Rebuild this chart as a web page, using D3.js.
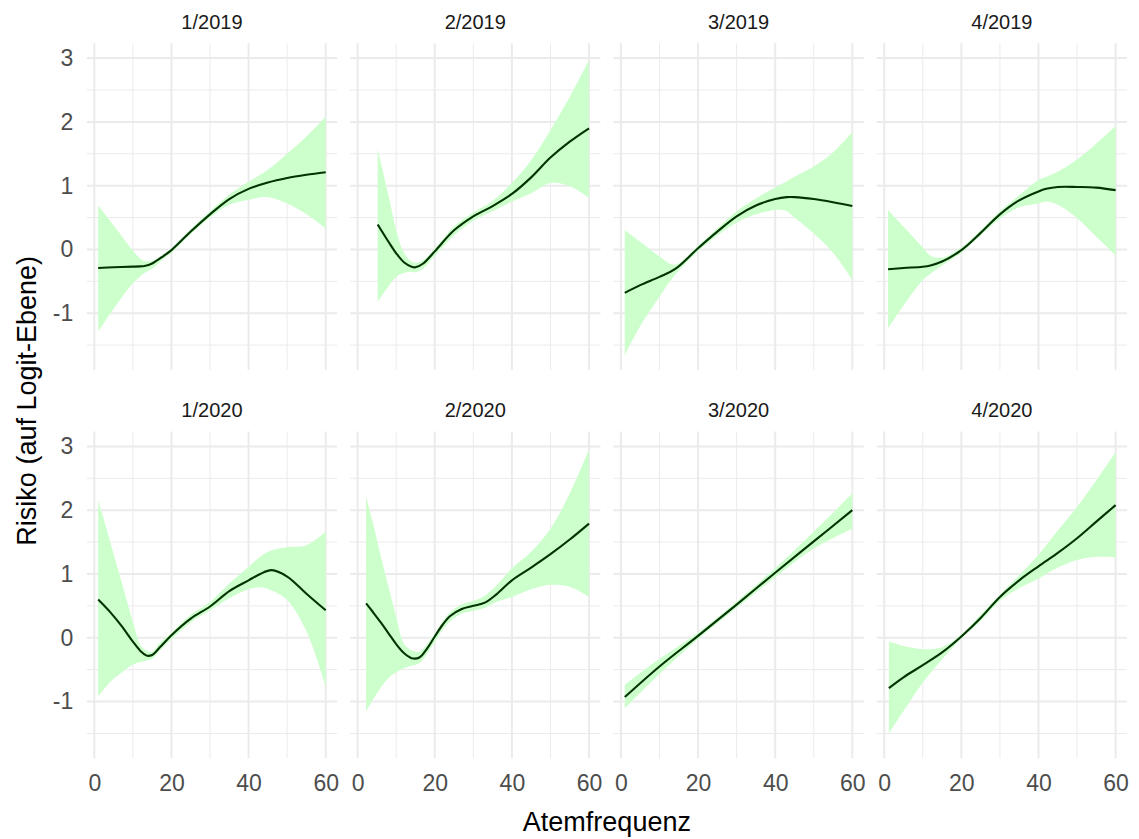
<!DOCTYPE html>
<html>
<head>
<meta charset="utf-8">
<script src="https://cdn.jsdelivr.net/npm/d3@7"></script>
<style>
  html, body { margin: 0; padding: 0; background: #fff; }
  svg { display: block; }
</style>
</head>
<body>
<svg id="chart" width="1139" height="839"></svg>
<script>
// ---------- DATA ----------
const panelTitles = ["1/2019", "2/2019", "3/2019", "4/2019", "1/2020", "2/2020", "3/2020", "4/2020"];

const xTicksMajor = [0, 20, 40, 60];
const xTicksMinor = [10, 30, 50];
const yTicksMajor = [-1, 0, 1, 2, 3];
const yTicksMinor = [-1.5, -0.5, 0.5, 1.5, 2.5];

// 1/2019
const x_q1_2019   = [1, 5, 10, 12, 13, 15, 18, 20, 25, 30, 35, 40, 45, 50, 55, 60];
const fit_q1_2019 = [-0.29, -0.28, -0.27, -0.265, -0.26, -0.22, -0.10, -0.01, 0.28, 0.55, 0.79, 0.95, 1.05, 1.12, 1.17, 1.21];
const lo_q1_2019  = [-1.29, -0.93, -0.53, -0.42, -0.37, -0.30, -0.14, -0.05, 0.24, 0.50, 0.70, 0.78, 0.82, 0.72, 0.55, 0.33];
const hi_q1_2019  = [0.69, 0.38, -0.02, -0.15, -0.18, -0.18, -0.07, 0.02, 0.32, 0.60, 0.86, 1.06, 1.25, 1.50, 1.77, 2.08];

// 2/2019
const x_q2_2019   = [5.2, 8, 10, 12, 14, 15, 17, 20, 25, 30, 35, 40, 45, 50, 55, 60];
const fit_q2_2019 = [0.39, 0.12, -0.06, -0.20, -0.27, -0.28, -0.22, -0.03, 0.30, 0.52, 0.68, 0.87, 1.13, 1.44, 1.69, 1.90];
const lo_q2_2019  = [-0.82, -0.58, -0.43, -0.37, -0.35, -0.36, -0.30, -0.10, 0.22, 0.45, 0.60, 0.75, 0.88, 1.04, 0.99, 0.81];
const hi_q2_2019  = [1.58, 0.85, 0.30, -0.05, -0.19, -0.21, -0.17, 0.01, 0.36, 0.58, 0.76, 1.04, 1.40, 1.87, 2.39, 2.97];

// 3/2019
const x_q3_2019   = [1, 5, 10, 14, 20, 25, 30, 35, 40, 43, 45, 50, 55, 60];
const fit_q3_2019 = [-0.68, -0.56, -0.43, -0.31, 0.02, 0.28, 0.52, 0.69, 0.79, 0.82, 0.82, 0.79, 0.74, 0.68];
const lo_q3_2019  = [-1.66, -1.20, -0.74, -0.40, -0.03, 0.22, 0.42, 0.55, 0.62, 0.60, 0.50, 0.25, -0.05, -0.48];
const hi_q3_2019  = [0.30, 0.12, -0.11, -0.24, 0.06, 0.33, 0.60, 0.80, 0.97, 1.07, 1.14, 1.30, 1.52, 1.84];

// 4/2019
const x_q4_2019   = [1, 5, 10, 12, 15, 20, 25, 30, 35, 40, 42, 45, 50, 55, 60];
const fit_q4_2019 = [-0.31, -0.29, -0.27, -0.25, -0.19, -0.01, 0.26, 0.55, 0.77, 0.91, 0.95, 0.98, 0.98, 0.97, 0.93];
const lo_q4_2019  = [-1.24, -0.88, -0.48, -0.38, -0.25, -0.05, 0.22, 0.48, 0.66, 0.72, 0.75, 0.70, 0.49, 0.20, -0.09];
const hi_q4_2019  = [0.62, 0.36, 0.03, -0.10, -0.13, 0.03, 0.30, 0.60, 0.85, 1.09, 1.14, 1.22, 1.41, 1.66, 1.93];

// 1/2020
const x_q1_2020   = [1, 4, 7, 10, 12, 13.5, 15, 17, 20, 25, 30, 35, 40, 43, 46, 50, 55, 60];
const fit_q1_2020 = [0.60, 0.41, 0.19, -0.06, -0.21, -0.28, -0.27, -0.15, 0.04, 0.30, 0.49, 0.73, 0.90, 1.00, 1.06, 0.96, 0.69, 0.43];
const lo_q1_2020  = [-0.92, -0.70, -0.55, -0.42, -0.38, -0.36, -0.33, -0.20, -0.02, 0.24, 0.43, 0.62, 0.76, 0.79, 0.74, 0.59, 0.10, -0.77];
const hi_q1_2020  = [2.16, 1.53, 0.89, 0.25, -0.12, -0.20, -0.22, -0.08, 0.08, 0.36, 0.56, 0.85, 1.11, 1.27, 1.37, 1.42, 1.45, 1.66];

// 2/2020
const x_q2_2020   = [2.2, 4, 6, 8, 10, 12, 14, 16, 18, 20, 22, 24, 27, 30, 33, 36, 40, 45, 50, 55, 60];
const fit_q2_2020 = [0.54, 0.40, 0.24, 0.07, -0.10, -0.24, -0.32, -0.31, -0.17, 0.02, 0.20, 0.34, 0.45, 0.50, 0.55, 0.68, 0.90, 1.10, 1.31, 1.54, 1.79];
const lo_q2_2020  = [-1.16, -0.97, -0.78, -0.63, -0.54, -0.48, -0.44, -0.40, -0.25, -0.07, 0.12, 0.26, 0.38, 0.42, 0.47, 0.56, 0.64, 0.76, 0.83, 0.80, 0.64];
const hi_q2_2020  = [2.21, 1.79, 1.28, 0.80, 0.33, -0.09, -0.20, -0.22, -0.10, 0.06, 0.25, 0.40, 0.52, 0.58, 0.66, 0.82, 1.09, 1.35, 1.71, 2.26, 2.95];

// 3/2020
const x_q3_2020   = [1, 10, 20, 30, 40, 50, 60];
const fit_q3_2020 = [-0.93, -0.45, 0.03, 0.52, 1.02, 1.51, 2.00];
const lo_q3_2020  = [-1.11, -0.57, -0.02, 0.47, 0.95, 1.40, 1.71];
const hi_q3_2020  = [-0.74, -0.33, 0.08, 0.57, 1.09, 1.66, 2.26];

// 4/2020
const x_q4_2020   = [1.2, 5, 10, 15, 20, 25, 30, 35, 40, 45, 50, 55, 60];
const fit_q4_2020 = [-0.79, -0.62, -0.43, -0.23, 0.02, 0.31, 0.64, 0.90, 1.12, 1.33, 1.56, 1.82, 2.08];
const lo_q4_2020  = [-1.50, -1.15, -0.70, -0.34, -0.01, 0.26, 0.58, 0.78, 0.93, 1.10, 1.22, 1.27, 1.26];
const hi_q4_2020  = [-0.06, -0.13, -0.18, -0.15, 0.05, 0.36, 0.68, 0.98, 1.30, 1.68, 2.05, 2.47, 2.91];

const xTitle = "Atemfrequenz";
const yTitle = "Risiko (auf Logit-Ebene)";

// ---------- BUILD ----------
function rows(x, fit, lo, hi) {
  return x.map((v, i) => ({ x: v, fit: fit[i], lo: lo[i], hi: hi[i] }));
}
const panelData = [
  rows(x_q1_2019, fit_q1_2019, lo_q1_2019, hi_q1_2019),
  rows(x_q2_2019, fit_q2_2019, lo_q2_2019, hi_q2_2019),
  rows(x_q3_2019, fit_q3_2019, lo_q3_2019, hi_q3_2019),
  rows(x_q4_2019, fit_q4_2019, lo_q4_2019, hi_q4_2019),
  rows(x_q1_2020, fit_q1_2020, lo_q1_2020, hi_q1_2020),
  rows(x_q2_2020, fit_q2_2020, lo_q2_2020, hi_q2_2020),
  rows(x_q3_2020, fit_q3_2020, lo_q3_2020, hi_q3_2020),
  rows(x_q4_2020, fit_q4_2020, lo_q4_2020, hi_q4_2020)
];

const FONT = "'Liberation Sans', Arial, Helvetica, sans-serif";
const svg = d3.select("#chart");

const panelW = 250.3, panelH = 326.7;
const panelLefts = [86.8, 350.1, 613.4, 876.7];
const panelTops = [43.3, 431.6];

// x domain: data range 1..60 with 5% expansion
const xExt = [1, 60];
const xPad = (xExt[1] - xExt[0]) * 0.05;
const xDomain = [xExt[0] - xPad, xExt[1] + xPad];
const yDomain = [-1.89, 3.232];

const x = d3.scaleLinear().domain(xDomain).range([0, panelW]);
const y = d3.scaleLinear().domain(yDomain).range([panelH, 0]);

const curve = d3.curveCatmullRom.alpha(0.5);
const area = d3.area().x(d => x(d.x)).y0(d => y(d.lo)).y1(d => y(d.hi)).curve(curve);
const line = d3.line().x(d => x(d.x)).y(d => y(d.fit)).curve(curve);
const fmt = d => String(d); // ASCII hyphen for negatives, as in the reference

panelData.forEach((data, i) => {
  const col = i % 4, row = Math.floor(i / 4);
  const g = svg.append("g").attr("transform", `translate(${panelLefts[col]},${panelTops[row]})`);

  // minor grid
  g.selectAll(".vminor").data(xTicksMinor).enter().append("line")
    .attr("x1", d => x(d)).attr("x2", d => x(d)).attr("y1", 0).attr("y2", panelH)
    .attr("stroke", "#EBEBEB").attr("stroke-width", 1);
  g.selectAll(".hminor").data(yTicksMinor).enter().append("line")
    .attr("y1", d => y(d)).attr("y2", d => y(d)).attr("x1", 0).attr("x2", panelW)
    .attr("stroke", "#EBEBEB").attr("stroke-width", 1);
  // major grid
  g.selectAll(".vmajor").data(xTicksMajor).enter().append("line")
    .attr("x1", d => x(d)).attr("x2", d => x(d)).attr("y1", 0).attr("y2", panelH)
    .attr("stroke", "#EBEBEB").attr("stroke-width", 2);
  g.selectAll(".hmajor").data(yTicksMajor).enter().append("line")
    .attr("y1", d => y(d)).attr("y2", d => y(d)).attr("x1", 0).attr("x2", panelW)
    .attr("stroke", "#EBEBEB").attr("stroke-width", 2);

  // ribbon and line
  g.append("path").datum(data).attr("d", area).attr("fill", "#CCFFCC").attr("stroke", "none");
  g.append("path").datum(data).attr("d", line).attr("fill", "none")
    .attr("stroke", "#003300").attr("stroke-width", 2.1).attr("stroke-linejoin", "round");

  // strip title
  g.append("text").attr("x", panelW / 2).attr("y", -14.5).attr("text-anchor", "middle")
    .attr("font-family", FONT).attr("font-size", 20).attr("fill", "#1A1A1A")
    .text(panelTitles[i]);

  // axes
  if (col === 0) {
    const ya = g.append("g").call(d3.axisLeft(y).tickValues(yTicksMajor).tickSize(0).tickPadding(13.5).tickFormat(fmt));
    ya.select(".domain").remove();
    ya.selectAll("text").attr("font-family", FONT).attr("font-size", 23).attr("fill", "#4D4D4D");
  }
  if (row === 1) {
    const xa = g.append("g").attr("transform", `translate(0,${panelH})`)
      .call(d3.axisBottom(x).tickValues(xTicksMajor).tickSize(0).tickPadding(16.4).tickFormat(fmt));
    xa.select(".domain").remove();
    xa.selectAll("text").attr("font-family", FONT).attr("font-size", 23).attr("fill", "#4D4D4D");
  }
});

// axis titles
svg.append("text").attr("x", (panelLefts[0] + panelLefts[3] + panelW) / 2).attr("y", 831)
  .attr("text-anchor", "middle").attr("font-family", FONT).attr("font-size", 27).attr("fill", "#000")
  .text(xTitle);
svg.append("text").attr("transform", `translate(36,${(panelTops[0] + panelTops[1] + panelH) / 2}) rotate(-90)`)
  .attr("text-anchor", "middle").attr("font-family", FONT).attr("font-size", 27).attr("fill", "#000")
  .text(yTitle);
</script>
</body>
</html>
